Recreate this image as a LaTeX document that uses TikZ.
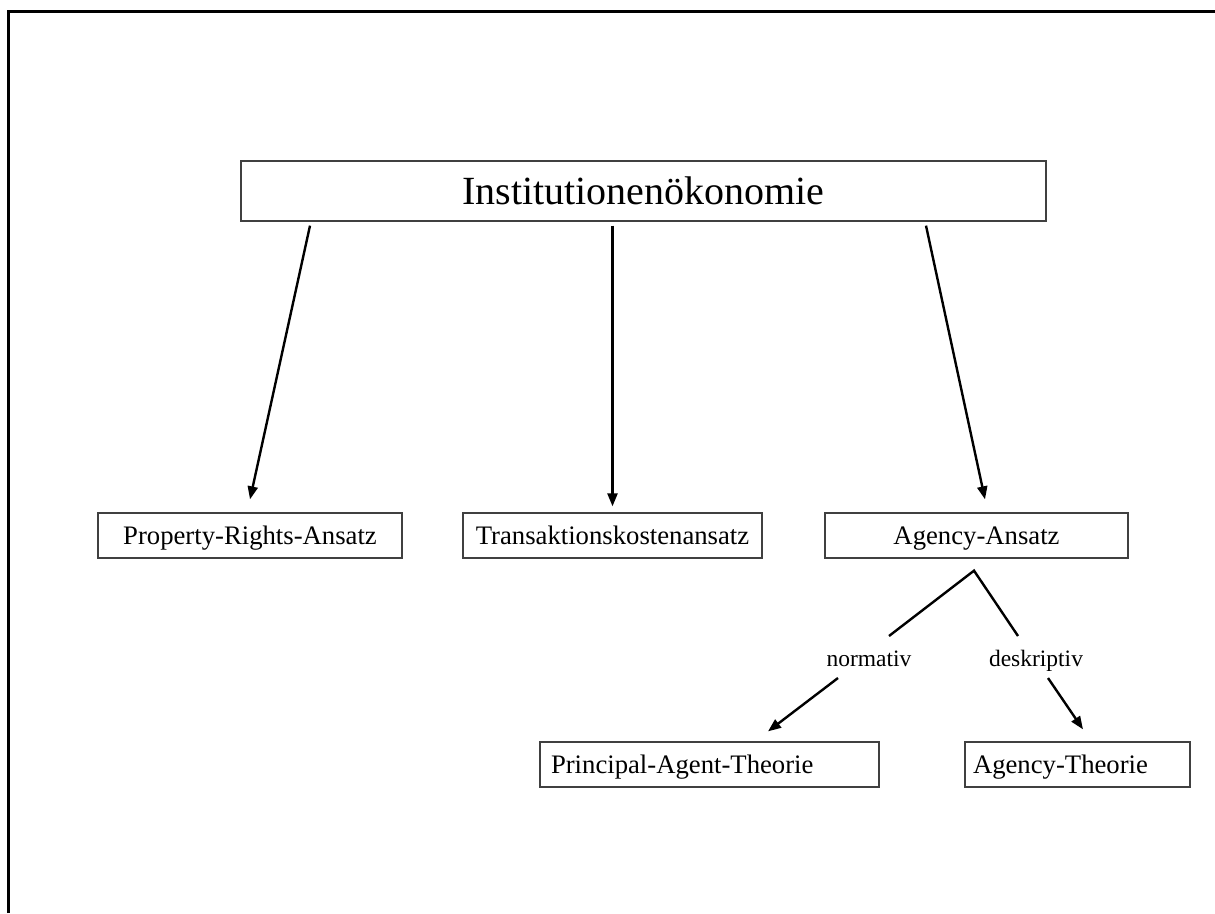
\documentclass[tikz,border=0pt]{standalone}
\usepackage{fontspec}
\setmainfont{Liberation Serif}
\usetikzlibrary{arrows.meta,calc}

\tikzset{
  box/.style={draw=black!75, line width=1.3pt, inner sep=0pt, fill=white},
  bigbox/.style={box, minimum width=805pt, minimum height=60pt,
    font=\fontsize{40}{48}\selectfont, text height=26.5pt, text depth=0pt},
  smallbox/.style={box, minimum height=45pt,
    font=\fontsize{26.7}{32}\selectfont, text height=18pt, text depth=0pt},
  leftbox/.style={smallbox, align=left, inner xsep=11pt},
  lbl/.style={anchor=base, inner sep=0pt, font=\fontsize{23.5}{28}\selectfont},
  conn/.style={line width=2.4pt, black},
  arr/.style={conn, -{Triangle[length=13pt,width=10pt]}},
}

\begin{document}
\begin{tikzpicture}[x=1pt, y=-1pt]
  \useasboundingbox (0,0) rectangle (1215,913);

  % page frame (top and left edges)
  \draw[line width=3pt] (8,913) -- (8,11) -- (1215,11);

  % top level
  \node[bigbox] (top) at (643.5,191) {Institutionenökonomie};

  % second level
  \node[smallbox, minimum width=304pt] (prop)   at (250,535.5)   {Property-Rights-Ansatz};
  \node[smallbox, minimum width=299pt] (trans)  at (612.5,535.5) {Transaktionskostenansatz};
  \node[smallbox, minimum width=303pt] (agency) at (976.5,535.5) {Agency-Ansatz};

  % third level
  \node[leftbox, text width=317pt] (pat) at (709.5,764.5) {Principal-Agent-Theorie};
  \node[leftbox, text width=209pt, inner xsep=8pt] (at) at (1077.5,764.5) {Agency-Theorie};

  % arrows from the top box
  \draw[arr] ([xshift=-333.5pt,yshift=-4pt]top.south) -- ([yshift=13pt]prop.north);
  \draw[arr] ([yshift=-4pt]top.south -| trans.north) -- ([yshift=6pt]trans.north);
  \draw[arr] ([xshift=282.5pt,yshift=-4pt]top.south) -- ([xshift=8.5pt,yshift=13pt]agency.north);

  % split below Agency-Ansatz
  \coordinate (apex) at ([xshift=-2.5pt,yshift=-12pt]agency.south);
  \coordinate (lA) at (889,636);
  \coordinate (lB) at (838,678);
  \coordinate (rA) at (1018,636);
  \coordinate (rB) at (1048,678);

  \draw[conn, line join=miter] (lA) -- (apex) -- (rA);
  \draw[arr] (lB) -- ([xshift=58.5pt,yshift=10pt]pat.north);
  \draw[arr] (rB) -- ([xshift=5.5pt,yshift=12pt]at.north);

  \node[lbl] (norm) at (869,666) {normativ};
  \node[lbl] (desk) at (1036,666) {deskriptiv};
\end{tikzpicture}
\end{document}
